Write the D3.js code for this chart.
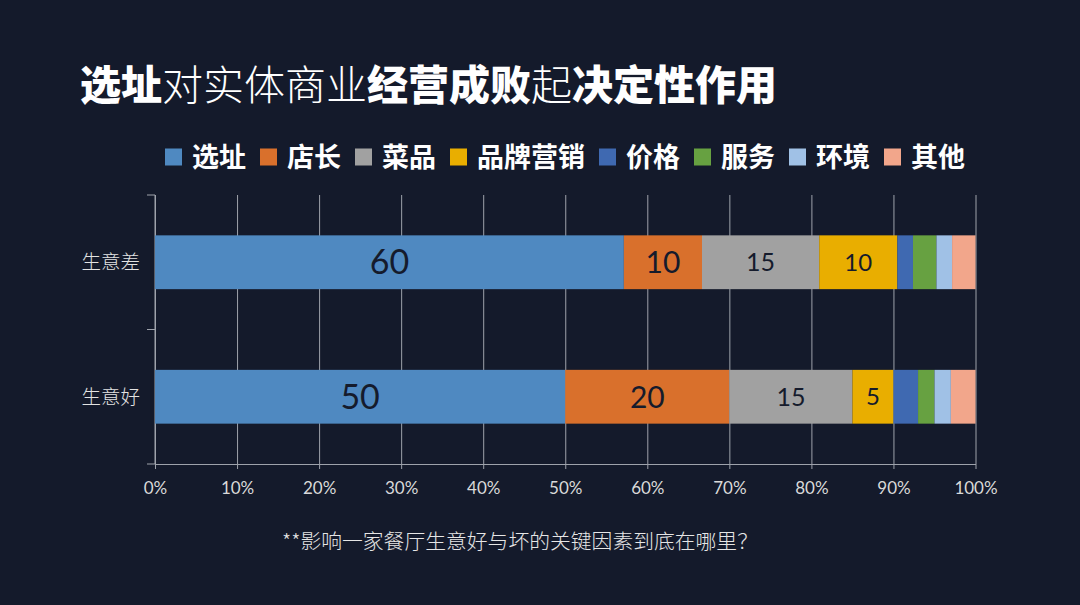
<!DOCTYPE html>
<html>
<head>
<meta charset="utf-8">
<script src="https://cdn.jsdelivr.net/npm/d3@7"></script>
<style>
  html, body { margin: 0; padding: 0; background: #141a2b; }
  svg { display: block; }
</style>
</head>
<body>
<script>
// chart data
const categories = ["生意差", "生意好"];
const seriesNames = ["选址", "店长", "菜品", "品牌营销", "价格", "服务", "环境", "其他"];
const poorValues = [60, 10, 15, 10, 2, 3, 2, 3];
const goodValues = [50, 20, 15, 5, 3, 2, 2, 3];
const xTickValues = [0, 0.1, 0.2, 0.3, 0.4, 0.5, 0.6, 0.7, 0.8, 0.9, 1];
const labelledSeries = ["选址", "店长", "菜品", "品牌营销"];

// styles
const colors = ["#4f89c1", "#d9702c", "#a1a1a1", "#e9ae00", "#3f69b1", "#67a141", "#a0c1e6", "#f2a68b"];
const labelSize = { "选址": 34, "店长": 30, "菜品": 25, "品牌营销": 24 };
const cjk = "'Noto Sans CJK SC', 'Noto Sans', sans-serif";
const latin = "Lato, 'Open Sans', sans-serif";

const width = 1080;
const height = 605;
const plot = { left: 155, right: 975.5, top: 195, bottom: 464 };

const svg = d3.select("body")
  .append("svg")
  .attr("width", width)
  .attr("height", height);

svg.append("rect")
  .attr("width", width)
  .attr("height", height)
  .attr("fill", "#141a2b");

// title, with bold and regular parts
const title = svg.append("text")
  .attr("x", 80)
  .attr("y", 85)
  .attr("dy", "0.36em")
  .attr("fill", "#ffffff")
  .style("font-family", cjk)
  .style("font-size", "41px");

const titleParts = [
  { t: "选址", w: 900 }, { t: "对实体商业", w: 300 }, { t: "经营成败", w: 900 },
  { t: "起", w: 300 }, { t: "决定性作用", w: 900 }
];
title.selectAll("tspan")
  .data(titleParts)
  .join("tspan")
  .style("font-weight", (d) => d.w)
  .text((d) => d.t);

// build table for the stack
const table = categories.map((c, i) => {
  const vals = i === 0 ? poorValues : goodValues;
  const row = { category: c };
  seriesNames.forEach((s, j) => { row[s] = vals[j]; });
  return row;
});

const stacked = d3.stack()
  .keys(seriesNames)
  .offset(d3.stackOffsetExpand)(table);

const x = d3.scaleLinear().domain([0, 1]).range([plot.left, plot.right]);
const y = d3.scaleBand()
  .domain(categories)
  .range([plot.top, plot.bottom])
  .paddingInner(0.6)
  .paddingOuter(0.3);

const color = d3.scaleOrdinal().domain(seriesNames).range(colors);

// vertical grid + bottom axis
const xAxis = svg.append("g")
  .attr("transform", `translate(0,${plot.bottom})`)
  .call(d3.axisBottom(x)
    .tickValues(xTickValues)
    .tickFormat(d3.format(".0%"))
    .tickSizeInner(-(plot.bottom - plot.top))
    .tickSizeOuter(0)
    .tickPadding(18));

xAxis.select(".domain").attr("stroke", "#9ea2ab");
xAxis.selectAll(".tick line")
  .attr("stroke", "#9ea2ab")
  .attr("y1", 5);
xAxis.selectAll(".tick text")
  .attr("fill", "#d9d9d9")
  .style("font-family", latin)
  .style("font-size", "17px");

// left axis line with ticks at band boundaries
const yAxis = svg.append("g");
yAxis.append("line")
  .attr("x1", plot.left).attr("x2", plot.left)
  .attr("y1", plot.top).attr("y2", plot.bottom)
  .attr("stroke", "#9ea2ab");

const boundaries = [plot.top, ...categories.map((c) => y(c) - y.step() * y.paddingInner() / 2 + y.step())];
yAxis.selectAll(".btick")
  .data(boundaries)
  .join("line")
  .attr("class", "btick")
  .attr("x1", plot.left - 8).attr("x2", plot.left)
  .attr("y1", (d) => d).attr("y2", (d) => d)
  .attr("stroke", "#9ea2ab");

yAxis.selectAll(".ylabel")
  .data(categories)
  .join("text")
  .attr("class", "ylabel")
  .attr("x", plot.left - 15)
  .attr("y", (d) => y(d) + y.bandwidth() / 2)
  .attr("dy", "0.36em")
  .attr("text-anchor", "end")
  .attr("fill", "#e3e3e3")
  .style("font-family", cjk)
  .style("font-size", "19.5px")
  .style("font-weight", 300)
  .text((d) => d);

// bars
const layer = svg.append("g")
  .selectAll("g")
  .data(stacked)
  .join("g")
  .attr("fill", (d) => color(d.key));

layer.selectAll("rect")
  .data((d) => d.map((p) => ({ key: d.key, p })))
  .join("rect")
  .attr("x", (d) => x(d.p[0]))
  .attr("y", (d) => y(d.p.data.category))
  .attr("width", (d) => x(d.p[1]) - x(d.p[0]))
  .attr("height", y.bandwidth());

// value labels for the first four series
layer.filter((d) => labelledSeries.includes(d.key))
  .selectAll("text")
  .data((d) => d.map((p) => ({ key: d.key, p })))
  .join("text")
  .attr("x", (d) => (x(d.p[0]) + x(d.p[1])) / 2)
  .attr("y", (d) => y(d.p.data.category) + y.bandwidth() / 2)
  .attr("dy", "0.36em")
  .attr("text-anchor", "middle")
  .attr("fill", "#151b2c")
  .style("font-family", latin)
  .style("font-size", (d) => labelSize[d.key] + "px")
  .text((d) => d.p.data[d.key]);

// legend
const legend = svg.append("g").attr("transform", "translate(165,157)");
let lx = 0;
seriesNames.forEach((s) => {
  const item = legend.append("g").attr("transform", `translate(${lx},0)`);
  item.append("rect")
    .attr("x", 0).attr("y", -8.5)
    .attr("width", 17).attr("height", 17)
    .attr("fill", color(s));
  const t = item.append("text")
    .attr("x", 27)
    .attr("dy", "0.36em")
    .attr("fill", "#ffffff")
    .style("font-family", cjk)
    .style("font-size", "27px")
    .style("font-weight", 700)
    .text(s);
  lx += 27 + t.node().getComputedTextLength() + 14;
});

// footnote
svg.append("text")
  .attr("x", 282)
  .attr("y", 542)
  .attr("dy", "0.36em")
  .attr("fill", "#e6e6e6")
  .style("font-family", cjk)
  .style("font-size", "20.8px")
  .style("font-weight", 300)
  .text("**影响一家餐厅生意好与坏的关键因素到底在哪里？");
</script>
</body>
</html>
